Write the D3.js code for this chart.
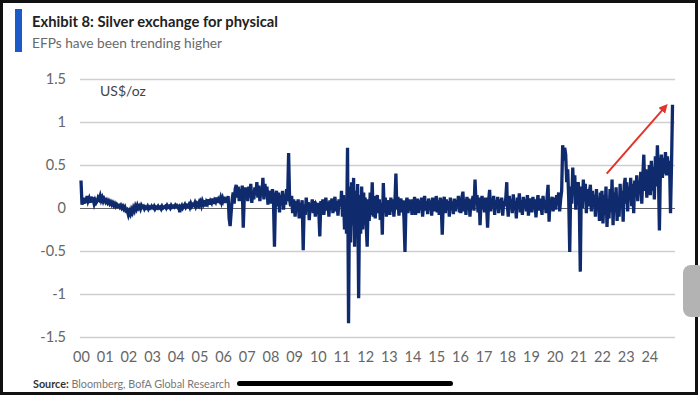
<!DOCTYPE html>
<html>
<head>
<meta charset="utf-8">
<title>Silver exchange for physical</title>
<script src="https://cdn.jsdelivr.net/npm/d3@7"></script>
<style>
  body { margin: 0; background: #fff; }
  svg { display: block; }
  .tick text { font-family: Lato, "Open Sans", sans-serif; fill: #666; }
</style>
</head>
<body>
<div id="chart"></div>
<script>
// tick labels
var yTicks = [1.5, 1, 0.5, 0, -0.5, -1, -1.5];
var yearTicks = d3.range(2000, 2025);

// EFP (US$/oz), ~2 points a month
var efp2000 = [0.32, 0.04, 0.10, 0.05, 0.12, 0.06, 0.14, 0.08, 0.11, 0.06, 0.13, 0.09, 0.10, 0.05, 0.09, 0.06, 0.08, 0.12, 0.10, 0.14, 0.09, 0.12, 0.08, 0.11];
var efp2001 = [0.10, 0.07, 0.09, 0.06, 0.08, 0.05, 0.07, 0.04, 0.06, 0.03, 0.05, 0.02, 0.04, 0.02, 0.03, 0.01, 0.03, 0.00, 0.02, -0.01, 0.01, -0.03, -0.02, -0.06];
var efp2002 = [-0.08, -0.04, -0.07, -0.02, -0.05, 0.00, -0.03, 0.02, -0.01, 0.03, 0.00, 0.02, -0.01, 0.03, 0.01, 0.02, -0.01, 0.01, 0.00, 0.02, -0.01, 0.01, 0.00, 0.02];
var efp2003 = [0.01, 0.00, 0.02, -0.01, 0.01, 0.00, 0.02, 0.00, 0.01, -0.01, 0.02, 0.00, 0.01, 0.02, 0.00, 0.03, 0.01, 0.02, 0.00, 0.03, 0.01, 0.02, 0.01, 0.03];
var efp2004 = [0.02, 0.03, 0.01, 0.02, -0.05, 0.01, 0.03, 0.00, 0.02, 0.04, 0.01, 0.03, 0.02, 0.04, 0.01, 0.05, 0.02, 0.04, 0.03, 0.06, 0.02, 0.05, 0.03, 0.06];
var efp2005 = [0.04, 0.07, 0.03, 0.08, 0.05, 0.09, 0.02, 0.07, 0.05, 0.10, 0.04, 0.08, 0.06, 0.11, 0.05, 0.09, 0.07, 0.12, 0.06, 0.10, 0.08, 0.12, 0.07, 0.11];
var efp2006 = [0.09, 0.13, 0.06, 0.12, 0.08, 0.14, -0.12, -0.21, -0.05, 0.10, 0.18, 0.05, 0.22, 0.27, 0.12, 0.25, 0.08, 0.22, 0.15, 0.26, -0.23, 0.12, 0.24, 0.10];
var efp2007 = [0.22, 0.08, 0.25, 0.12, 0.28, 0.06, 0.20, 0.10, 0.24, 0.15, 0.30, 0.12, 0.26, 0.08, 0.22, 0.14, 0.35, 0.10, 0.28, 0.15, 0.25, 0.04, 0.20, 0.10];
var efp2008 = [0.18, 0.05, 0.22, 0.08, -0.45, 0.12, 0.20, 0.02, 0.18, -0.05, 0.15, 0.06, 0.20, -0.02, 0.16, 0.04, 0.22, 0.08, 0.64, 0.10, 0.02, 0.14, -0.06, 0.10];
var efp2009 = [0.05, -0.10, 0.08, -0.04, 0.10, -0.12, 0.06, -0.02, 0.09, -0.49, 0.04, -0.08, 0.12, -0.03, 0.07, -0.14, 0.05, 0.00, 0.10, -0.06, 0.08, -0.10, 0.04, 0.02];
var efp2010 = [0.06, -0.05, -0.33, 0.08, -0.02, 0.10, -0.08, 0.05, 0.12, -0.03, 0.07, -0.10, 0.09, 0.00, 0.11, -0.06, 0.04, 0.13, -0.04, 0.08, -0.09, 0.10, 0.02, 0.07];
var efp2011 = [0.20, -0.10, 0.15, -0.25, 0.10, -0.30, 0.70, -1.34, 0.25, -0.40, 0.30, -0.20, 0.35, -0.45, 0.20, -0.35, 0.28, -1.05, 0.15, -0.30, 0.25, -0.25, 0.18, -0.15];
var efp2012 = [0.12, -0.20, -0.45, 0.10, -0.15, 0.18, -0.08, 0.30, -0.10, 0.14, -0.12, 0.08, 0.15, -0.06, 0.10, -0.14, 0.06, -0.31, 0.29, -0.05, 0.12, -0.10, 0.09, -0.02];
var efp2013 = [0.08, -0.08, 0.12, -0.04, 0.10, -0.10, 0.06, 0.40, -0.02, 0.13, -0.09, 0.07, 0.11, -0.05, 0.09, -0.12, -0.51, 0.05, 0.12, -0.06, 0.10, -0.03, 0.08, -0.08];
var efp2014 = [0.10, -0.04, 0.13, -0.08, 0.06, 0.11, -0.06, 0.09, -0.02, 0.12, -0.10, 0.05, 0.14, -0.03, 0.08, -0.07, 0.11, 0.00, 0.09, -0.09, 0.12, -0.04, 0.07, 0.02];
var efp2015 = [0.14, -0.05, 0.09, -0.08, 0.12, 0.02, -0.31, 0.06, 0.13, -0.06, 0.10, -0.02, 0.08, -0.10, 0.12, 0.01, 0.07, -0.07, 0.11, -0.04, 0.09, 0.03, 0.14, -0.05];
var efp2016 = [0.08, -0.06, 0.12, 0.19, -0.04, 0.10, -0.08, 0.13, 0.02, 0.11, -0.10, 0.09, 0.05, 0.14, -0.03, 0.33, 0.06, 0.15, -0.05, 0.12, -0.20, 0.08, 0.14, -0.02];
var efp2017 = [0.10, -0.05, 0.12, 0.02, -0.23, 0.08, 0.21, -0.04, 0.11, 0.03, 0.14, -0.08, 0.09, 0.01, 0.13, -0.06, 0.10, 0.04, 0.12, -0.09, 0.08, 0.02, 0.11, 0.30];
var efp2018 = [0.05, -0.10, 0.14, 0.00, 0.10, -0.06, 0.16, -0.02, 0.08, -0.12, 0.12, 0.03, 0.17, -0.05, 0.09, -0.08, 0.13, 0.01, 0.10, -0.04, 0.15, -0.09, 0.07, 0.11];
var efp2019 = [0.08, -0.05, 0.13, 0.02, 0.10, -0.11, 0.06, 0.15, -0.03, 0.11, 0.04, -0.08, 0.14, 0.00, 0.09, -0.06, 0.12, 0.27, -0.16, 0.10, 0.05, 0.13, -0.04, 0.09];
var efp2020 = [0.12, -0.02, 0.15, 0.05, 0.18, -0.04, 0.10, 0.20, 0.73, 0.55, 0.70, 0.62, 0.30, 0.45, 0.10, -0.51, 0.25, 0.05, 0.47, 0.15, 0.38, -0.02, 0.30, 0.10];
var efp2021 = [0.30, 0.05, -0.74, 0.25, 0.00, 0.33, 0.08, 0.28, -0.06, 0.22, 0.02, 0.18, 0.27, -0.04, 0.20, 0.06, 0.15, -0.10, 0.22, 0.00, 0.12, -0.15, 0.18, -0.05];
var efp2022 = [0.20, -0.18, 0.15, -0.08, 0.25, -0.22, 0.10, -0.12, 0.22, -0.05, 0.33, -0.20, 0.18, -0.02, 0.24, -0.15, 0.12, -0.10, 0.28, 0.00, 0.20, -0.16, 0.26, 0.35];
var efp2023 = [0.05, 0.30, -0.04, 0.25, 0.10, 0.35, 0.02, 0.28, -0.06, 0.32, 0.15, 0.38, 0.08, 0.30, 0.18, 0.42, 0.05, 0.36, 0.62, 0.20, 0.45, 0.12, 0.40, 0.25];
var efp2024 = [0.50, 0.15, 0.55, 0.20, 0.48, 0.10, 0.60, 0.25, 0.73, 0.40, -0.26, 0.45, 0.62, 0.35, 0.58, 0.40, 0.65, 0.38, 0.60, 0.42, 0.55, -0.06, 0.50, 1.20];

var efpYears = [efp2000, efp2001, efp2002, efp2003, efp2004, efp2005, efp2006, efp2007, efp2008,
  efp2009, efp2010, efp2011, efp2012, efp2013, efp2014, efp2015, efp2016, efp2017, efp2018,
  efp2019, efp2020, efp2021, efp2022, efp2023, efp2024];

// flatten into (date, value) points, spread evenly through each year
var data = [];
efpYears.forEach(function(vals, k) {
  vals.forEach(function(v, i) {
    data.push({ t: 2000 + k + i / (vals.length - 1) * 0.98, v: v });
  });
});

var width = 700, height = 398;
var svg = d3.select("#chart").append("svg")
  .attr("width", width)
  .attr("height", height);

var x = d3.scaleLinear().domain([2000, 2025]).range([81, 673]);
var y = d3.scaleLinear().domain([-1.5, 1.5]).range([337, 79]);

// phone screenshot frame
svg.append("rect")
  .attr("x", 1.5).attr("y", 1.5)
  .attr("width", 695).attr("height", 392)
  .attr("fill", "#fff")
  .attr("stroke", "#111")
  .attr("stroke-width", 3);

// title block
svg.append("rect")
  .attr("x", 15).attr("y", 9)
  .attr("width", 7).attr("height", 43)
  .attr("fill", "#1c5bc7");

svg.append("text")
  .attr("x", 32).attr("y", 27)
  .attr("font-family", "Lato, sans-serif")
  .attr("font-weight", "bold")
  .attr("font-size", 15)
  .attr("fill", "#222")
  .attr("textLength", 246)
  .attr("lengthAdjust", "spacingAndGlyphs")
  .text("Exhibit 8: Silver exchange for physical");

svg.append("text")
  .attr("x", 32).attr("y", 48)
  .attr("font-family", "Lato, sans-serif")
  .attr("font-size", 14)
  .attr("fill", "#6a6a6a")
  .attr("textLength", 190)
  .attr("lengthAdjust", "spacingAndGlyphs")
  .text("EFPs have been trending higher");

// y axis with gridlines
var yAxis = svg.append("g")
  .attr("transform", "translate(80,0)")
  .call(d3.axisLeft(y)
    .tickValues(yTicks)
    .tickSize(-595)
    .tickPadding(14)
    .tickFormat(function(d) { return d3.format("")(d).replace("\u2212", "-"); }));
yAxis.select(".domain").remove();
yAxis.selectAll(".tick line")
  .attr("stroke", function(d) { return d === 0 ? "#666" : "#cfcfcf"; })
  .attr("stroke-width", function(d) { return d === 0 ? 1.2 : 1.6; });
yAxis.selectAll(".tick text").attr("font-size", 14.5);

// x axis, two digit years
var xAxis = svg.append("g")
  .attr("transform", "translate(0,337)")
  .call(d3.axisBottom(x)
    .tickValues(yearTicks)
    .tickSize(0)
    .tickPadding(15)
    .tickFormat(function(d) { return String(d % 100).padStart(2, "0"); }));
xAxis.select(".domain").remove();
xAxis.selectAll(".tick text").attr("font-size", 14.5);

svg.append("text")
  .attr("x", 100).attr("y", 96)
  .attr("font-family", "Lato, sans-serif")
  .attr("font-size", 14)
  .attr("fill", "#444")
  .text("US$/oz");

// the series
var line = d3.line()
  .x(function(d) { return x(d.t); })
  .y(function(d) { return y(d.v); });

svg.append("path")
  .datum(data)
  .attr("fill", "none")
  .attr("stroke", "#0f2a6d")
  .attr("stroke-width", 3.3)
  .attr("d", line);

// red trend arrow
svg.append("defs").append("marker")
  .attr("id", "head")
  .attr("viewBox", "0 0 10 10")
  .attr("refX", 5).attr("refY", 5)
  .attr("markerWidth", 4.5).attr("markerHeight", 4.5)
  .attr("orient", "auto")
  .append("path")
  .attr("d", "M0,0 L10,5 L0,10 z")
  .attr("fill", "#e3342b");

svg.append("line")
  .attr("x1", x(2022.2)).attr("y1", y(0.4))
  .attr("x2", x(2024.65)).attr("y2", y(1.17))
  .attr("stroke", "#e3342b")
  .attr("stroke-width", 2)
  .attr("marker-end", "url(#head)");

// source
var src = svg.append("text")
  .attr("x", 33).attr("y", 388)
  .attr("font-family", "Lato, sans-serif")
  .attr("font-size", 11)
  .attr("fill", "#777")
  .attr("textLength", 197)
  .attr("lengthAdjust", "spacingAndGlyphs");
src.append("tspan").attr("font-weight", "bold").attr("fill", "#333").text("Source:");
src.append("tspan").text(" Bloomberg, BofA Global Research");

// phone ui bits
svg.append("rect")
  .attr("x", 237).attr("y", 381)
  .attr("width", 216).attr("height", 5)
  .attr("rx", 2.5)
  .attr("fill", "#000");

svg.append("rect")
  .attr("x", 683).attr("y", 265)
  .attr("width", 22).attr("height", 52)
  .attr("rx", 8)
  .attr("fill", "#b3b3b3");
</script>
</body>
</html>
